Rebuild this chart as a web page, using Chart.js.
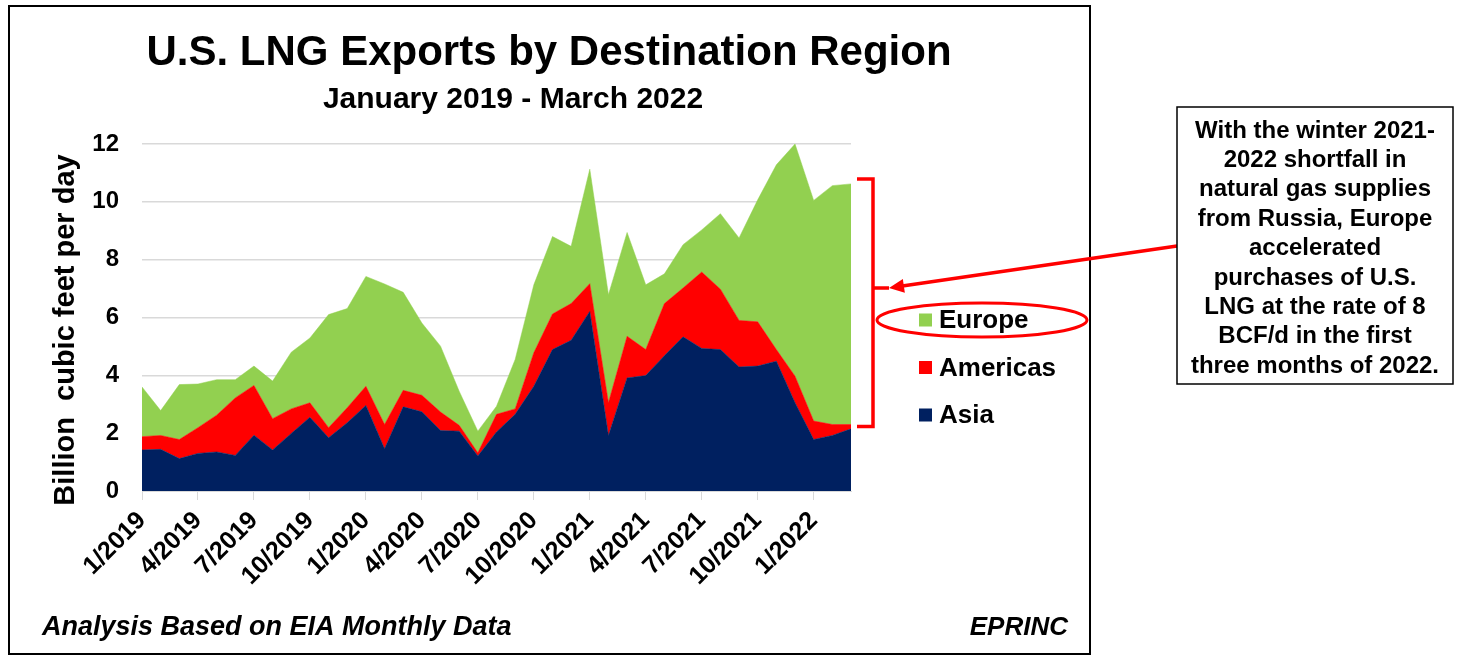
<!DOCTYPE html>
<html>
<head>
<meta charset="utf-8">
<title>U.S. LNG Exports by Destination Region</title>
<script src="https://cdn.jsdelivr.net/npm/chart.js@4.4.1/dist/chart.umd.min.js"></script>
<style>
  html, body { margin: 0; padding: 0; background: #fff; }
  #wrap { position: relative; width: 1464px; height: 666px; }
</style>
</head>
<body>
<div id="wrap"><canvas id="lngChart"></canvas></div>
<script>
/* U.S. LNG exports by destination region, Jan 2019 - Mar 2022 (Bcf/d) */

const months = [
  '1/2019', '2/2019', '3/2019', '4/2019', '5/2019', '6/2019', '7/2019', '8/2019', '9/2019', '10/2019', '11/2019', '12/2019',
  '1/2020', '2/2020', '3/2020', '4/2020', '5/2020', '6/2020', '7/2020', '8/2020', '9/2020', '10/2020', '11/2020', '12/2020',
  '1/2021', '2/2021', '3/2021', '4/2021', '5/2021', '6/2021', '7/2021', '8/2021', '9/2021', '10/2021', '11/2021', '12/2021',
  '1/2022', '2/2022', '3/2022'
];

const asia = [
  1.42, 1.44, 1.12, 1.30, 1.35, 1.23, 1.93, 1.42, 1.99, 2.55, 1.84, 2.36,
  2.96, 1.46, 2.91, 2.74, 2.09, 2.07, 1.21, 2.04, 2.65, 3.62, 4.89, 5.21,
  6.21, 1.92, 3.91, 3.99, 4.68, 5.33, 4.93, 4.89, 4.29, 4.32, 4.49, 3.05,
  1.78, 1.92, 2.15
];

const americas = [
  0.46, 0.48, 0.66, 0.89, 1.27, 1.99, 1.72, 1.08, 0.85, 0.50, 0.35, 0.52,
  0.66, 0.84, 0.57, 0.57, 0.64, 0.20, 0.11, 0.61, 0.19, 1.16, 1.23, 1.27,
  0.96, 1.13, 1.44, 0.90, 1.80, 1.69, 2.64, 2.09, 1.61, 1.53, 0.40, 0.92,
  0.64, 0.38, 0.15
];

const europe = [
  1.72, 0.86, 1.90, 1.51, 1.23, 0.63, 0.67, 1.30, 1.96, 2.24, 3.91, 3.43,
  3.80, 4.86, 3.39, 2.50, 2.28, 1.18, 0.75, 0.28, 1.71, 2.35, 2.68, 1.98,
  3.96, 3.74, 3.59, 2.24, 1.03, 1.50, 1.46, 2.61, 2.85, 4.22, 6.39, 8.03,
  7.63, 8.26, 8.32
];

const yTicks = [0, 2, 4, 6, 8, 10, 12];

const noteLines = [
  'With the winter 2021-',
  '2022 shortfall in',
  'natural gas supplies',
  'from Russia, Europe',
  'accelerated',
  'purchases of U.S.',
  'LNG at the rate of 8',
  'BCF/d in the first',
  'three months of 2022.'
];

const FONT = "'Liberation Sans', Arial, sans-serif";

// everything around the plot: frame, titles, legend, callout
const lngDecorPlugin = {
    id: 'lngDecor',
    afterDraw(chart) {
        const { ctx, scales } = chart;
        const yScale = scales.y;
        const xScale = scales.x;
        ctx.save();

        // outer frame
        ctx.strokeStyle = '#000';
        ctx.lineWidth = 2;
        ctx.strokeRect(9, 6, 1081, 648);

        ctx.fillStyle = '#000';
        ctx.textAlign = 'center';
        ctx.textBaseline = 'middle';
        ctx.font = `bold 42px ${FONT}`;
        ctx.fillText('U.S. LNG Exports by Destination Region', 549, 53);
        ctx.font = `bold 30px ${FONT}`;
        ctx.fillText('January 2019 - March 2022', 513, 100);

        // y axis title
        ctx.save();
        ctx.translate(66, 330);
        ctx.rotate(-Math.PI / 2);
        ctx.font = `bold 29px ${FONT}`;
        ctx.fillText('Billion  cubic feet per day', 0, 0);
        ctx.restore();

        // legend, top to bottom = reverse of stacking order
        const items = chart.data.datasets.slice().reverse();
        ctx.font = `bold 26px ${FONT}`;
        ctx.textAlign = 'left';
        items.forEach((ds, i) => {
            const cy = 320 + i * 47.5;
            ctx.fillStyle = ds.backgroundColor;
            ctx.fillRect(919, cy - 6.5, 13, 13);
            ctx.fillStyle = '#000';
            ctx.fillText(ds.label, 939, cy + 1);
        });

        // red ellipse around Europe
        ctx.strokeStyle = '#ff0000';
        ctx.lineWidth = 3;
        ctx.beginPath();
        ctx.ellipse(982, 320, 105, 17, 0, 0, Math.PI * 2);
        ctx.stroke();

        // bracket spanning the Europe band at the last month
        const last = months.length - 1;
        const yTop = yScale.getPixelForValue(asia[last] + americas[last] + europe[last]) - 5;
        const yBot = yScale.getPixelForValue(asia[last] + americas[last]) + 2;
        const xEnd = xScale.getPixelForValue(last);
        const bx = xEnd + 22;
        const midY = 288;
        ctx.lineWidth = 3.5;
        ctx.beginPath();
        ctx.moveTo(xEnd + 6, yTop);
        ctx.lineTo(bx, yTop);
        ctx.lineTo(bx, yBot);
        ctx.lineTo(xEnd + 6, yBot);
        ctx.moveTo(bx, midY);
        ctx.lineTo(bx + 16, midY);
        ctx.stroke();

        // arrow from note box to bracket
        const ax0 = 1177, ay0 = 246, ax1 = bx + 16, ay1 = midY;
        const ang = Math.atan2(ay1 - ay0, ax1 - ax0);
        ctx.beginPath();
        ctx.moveTo(ax0, ay0);
        ctx.lineTo(ax1 - 10 * Math.cos(ang), ay1 - 10 * Math.sin(ang));
        ctx.stroke();
        ctx.fillStyle = '#ff0000';
        ctx.beginPath();
        ctx.moveTo(ax1, ay1);
        ctx.lineTo(ax1 - 15 * Math.cos(ang) + 7 * Math.sin(ang), ay1 - 15 * Math.sin(ang) - 7 * Math.cos(ang));
        ctx.lineTo(ax1 - 15 * Math.cos(ang) - 7 * Math.sin(ang), ay1 - 15 * Math.sin(ang) + 7 * Math.cos(ang));
        ctx.closePath();
        ctx.fill();

        // note box
        ctx.fillStyle = '#fff';
        ctx.fillRect(1177, 107, 276, 277);
        ctx.strokeStyle = '#000';
        ctx.lineWidth = 1.5;
        ctx.strokeRect(1177, 107, 276, 277);
        ctx.fillStyle = '#000';
        ctx.textAlign = 'center';
        ctx.font = `bold 24px ${FONT}`;
        noteLines.forEach((line, i) => {
            ctx.fillText(line, 1315, 131 + i * 29.4);
        });

        // footer
        ctx.font = `italic bold 27px ${FONT}`;
        ctx.textAlign = 'left';
        ctx.fillText('Analysis Based on EIA Monthly Data', 42, 628);
        ctx.textAlign = 'right';
        ctx.font = `italic bold 26px ${FONT}`;
        ctx.fillText('EPRINC', 1068, 628);

        ctx.restore();
    }
};

const ctx = document.getElementById('lngChart').getContext('2d');

const lngChart = new Chart(ctx, {
    type: 'line',
    data: {
        labels: months,
        datasets: [
            { label: 'Asia', data: asia, backgroundColor: '#002060', borderColor: '#002060', fill: 'origin' },
            { label: 'Americas', data: americas, backgroundColor: '#ff0000', borderColor: '#ff0000', fill: '-1' },
            { label: 'Europe', data: europe, backgroundColor: '#92d050', borderColor: '#92d050', fill: '-1' }
        ]
    },
    options: {
        responsive: true,
        maintainAspectRatio: false,
        animation: false,
        layout: { padding: { left: 0, top: 144, right: 613, bottom: 75 } },
        elements: {
            point: { radius: 0, hoverRadius: 0 },
            line: { borderWidth: 0.5, tension: 0 }
        },
        scales: {
            x: {
                offset: false,
                afterFit(scale) { scale.height = 100; },
                grid: {
                    drawOnChartArea: false,
                    drawTicks: true,
                    tickLength: 9,
                    color: c => (c.index % 3 === 0 ? '#d9d9d9' : 'rgba(0,0,0,0)')
                },
                border: { color: '#d9d9d9' },
                ticks: {
                    autoSkip: false,
                    maxRotation: 45,
                    minRotation: 45,
                    padding: 6,
                    color: '#000',
                    font: { family: FONT, size: 25, weight: 'bold' },
                    callback: (v, i) => (i % 3 === 0 ? months[i] : '')
                }
            },
            y: {
                stacked: true,
                min: yTicks[0],
                max: yTicks[yTicks.length - 1],
                afterFit(scale) { scale.width = 142; },
                afterBuildTicks(scale) { scale.ticks = yTicks.map(v => ({ value: v })); },
                grid: { color: '#d9d9d9', lineWidth: 1.5, drawTicks: false },
                border: { display: false },
                ticks: {
                    padding: 23,
                    color: '#000',
                    font: { family: FONT, size: 24, weight: 'bold' }
                }
            }
        },
        plugins: {
            legend: { display: false },
            tooltip: { enabled: false }
        }
    },
    plugins: [lngDecorPlugin]
});
</script>
</body>
</html>
